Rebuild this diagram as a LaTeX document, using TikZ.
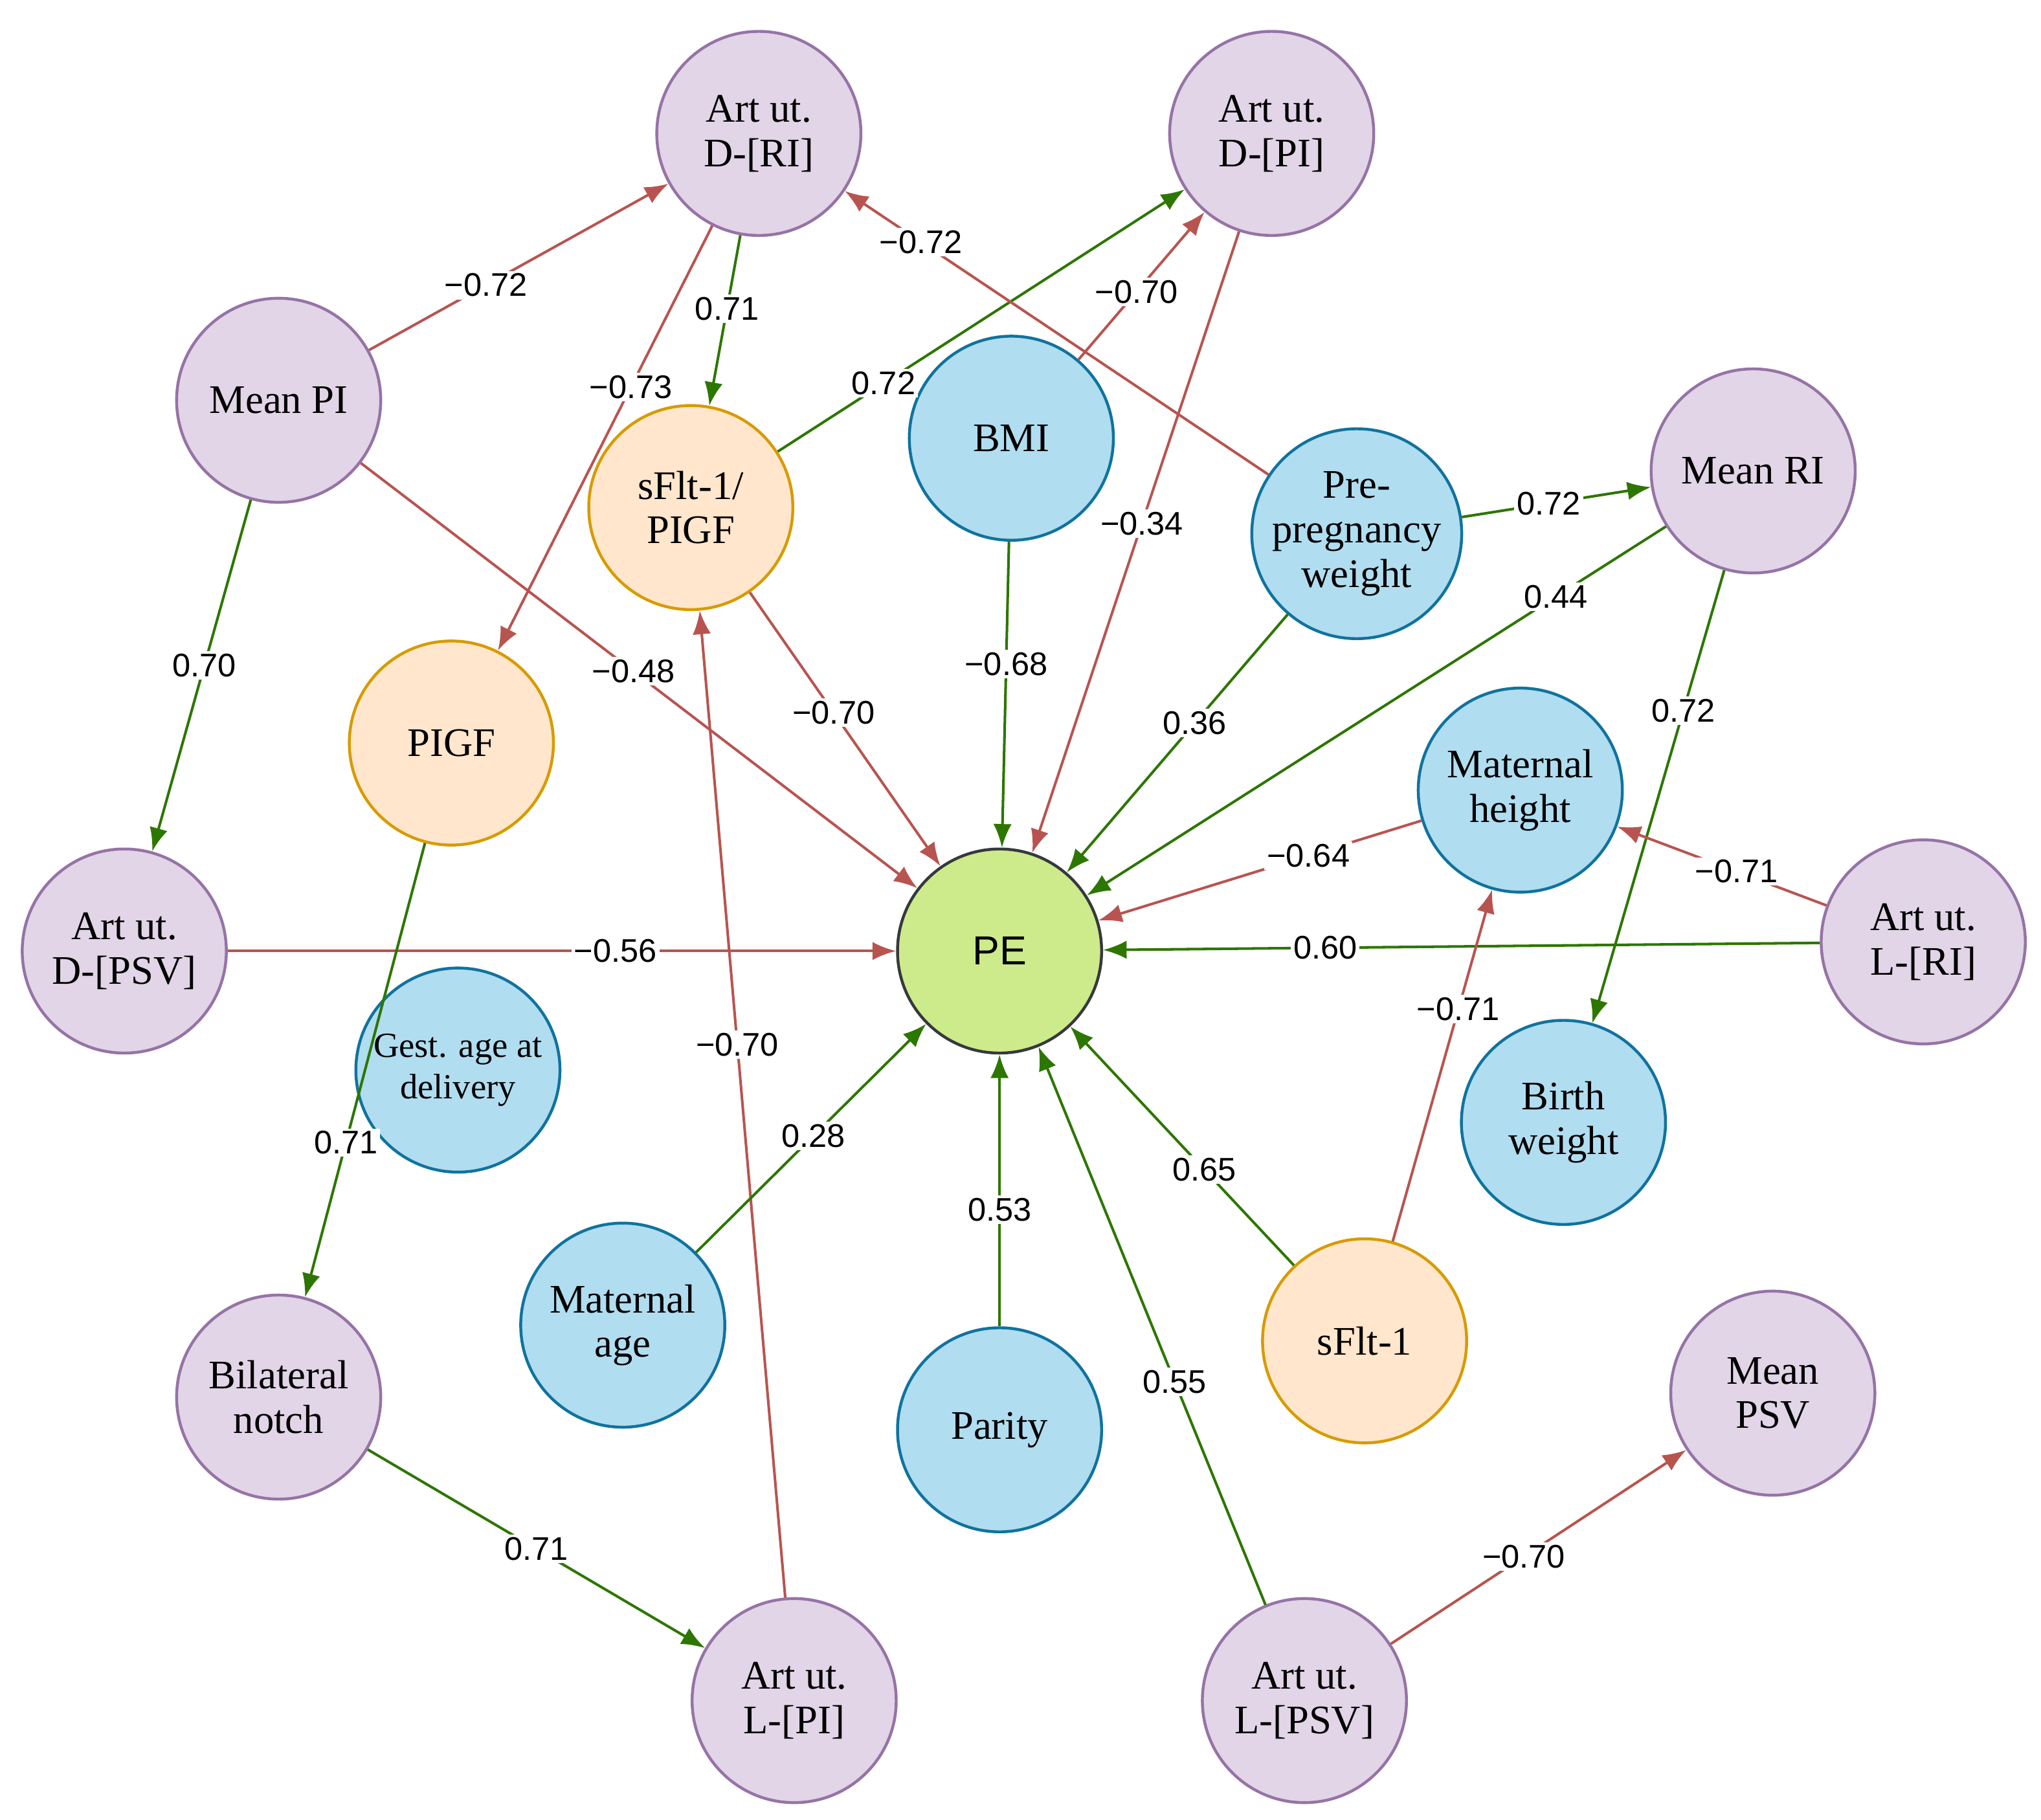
\documentclass[tikz,border=0pt]{standalone}
\usepackage{fontspec}
\setmainfont{Liberation Serif}
\newfontfamily\lsans{Liberation Sans}
\usetikzlibrary{arrows.meta}
\definecolor{pf}{HTML}{E1D5E7}\definecolor{pd}{HTML}{9673A6}
\definecolor{bf}{HTML}{B1DDF0}\definecolor{bd}{HTML}{10739E}
\definecolor{of}{HTML}{FFE6CC}\definecolor{od}{HTML}{D79B00}
\definecolor{gf}{HTML}{CDEB8B}\definecolor{gd}{HTML}{36393D}
\definecolor{er}{HTML}{B85450}\definecolor{eg}{HTML}{2D7600}
\begin{document}
\begin{tikzpicture}[x=0.5pt,y=-0.5pt,
 n/.style={circle,minimum size=78pt,inner sep=0pt,line width=1.1pt,align=center,font=\fontsize{15.5}{17}\selectfont},
 pu/.style={n,fill=pf,draw=pd}, bl/.style={n,fill=bf,draw=bd}, or/.style={n,fill=of,draw=od},
 e/.style={line width=1pt,-{Latex[length=9pt,width=7pt]}},
 r/.style={e,draw=er}, g/.style={e,draw=eg},
 l/.style={fill=white,inner sep=1pt,font=\lsans\fontsize{12.5}{14}\selectfont}]
\useasboundingbox (0,0) rectangle (1560,1391);
\node[pu] (dri) at (580,102) {Art ut.\\D-[RI]};
\node[pu] (dpi) at (972,102) {Art ut.\\D-[PI]};
\node[pu] (mpi) at (213,306) {Mean PI};
\node[or] (ratio) at (528,388) {sFlt-1/\\PIGF};
\node[bl] (bmi) at (773,335) {BMI};
\node[bl] (pre) at (1037,408) {Pre-\\pregnancy\\weight};
\node[pu] (mri) at (1340,360) {Mean RI};
\node[or] (pigf) at (345,568) {PIGF};
\node[bl] (mh) at (1162,604) {Maternal\\height};
\node[pu] (dpsv) at (95,727) {Art ut.\\D-[PSV]};
\node[n,fill=gf,draw=gd,font=\lsans\fontsize{15.5}{17}\selectfont] (pe) at (764,727) {PE};
\node[pu] (lri) at (1470,720) {Art ut.\\L-[RI]};
\node[bl,font=\fontsize{13.5}{16}\selectfont] (gest) at (350,818) {Gest. age at\\delivery};
\node[bl] (bw) at (1195,858) {Birth\\weight};
\node[bl] (ma) at (476,1013) {Maternal\\age};
\node[or] (sflt) at (1043,1025) {sFlt-1};
\node[bl] (par) at (764,1093) {Parity};
\node[pu] (bn) at (213,1068) {Bilateral\\notch};
\node[pu] (mpsv) at (1355,1065) {Mean\\PSV};
\node[pu] (lpi) at (607,1300) {Art ut.\\L-[PI]};
\node[pu] (lpsv) at (997,1300) {Art ut.\\L-[PSV]};

\draw[r] (mpi) -- node[l,pos=0.39]{−0.72} (dri);
\draw[g] (dri) -- node[l,pos=0.43]{0.71} (ratio);
\draw[r] (dri) -- node[l,pos=0.38]{−0.73} (pigf);
\draw[g] (ratio) -- node[l,pos=0.26]{0.72} (dpi);
\draw[r] (bmi) -- node[l,pos=0.46]{−0.70} (dpi);
\draw[r] (pre) -- node[l,pos=0.82]{−0.72} (dri);
\draw[r] (dpi) -- node[l,pos=0.47]{−0.34} (pe);
\draw[g] (pre) -- node[l,pos=0.46]{0.72} (mri);
\draw[r] (mpi) -- node[l,pos=0.49]{−0.48} (pe);
\draw[g] (mpi) -- node[l,pos=0.47]{0.70} (dpsv);
\draw[r] (ratio) -- node[l,pos=0.44]{−0.70} (pe);
\draw[g] (bmi) -- node[l,pos=0.4]{−0.68} (pe);
\draw[g] (pre) -- node[l,pos=0.42]{0.36} (pe);
\draw[g] (mri) -- node[l,pos=0.19]{0.44} (pe);
\draw[g] (mri) -- node[l,pos=0.31]{0.72} (bw);
\draw[r] (mh) -- node[l,pos=0.35]{−0.64} (pe);
\draw[r] (lri) -- node[l,pos=0.43]{−0.71} (mh);
\draw[g] (lri) -- node[l,pos=0.69]{0.60} (pe);
\draw[r] (dpsv) -- node[l,pos=0.58]{−0.56} (pe);
\draw[g] (pigf) -- node[l,pos=0.66]{0.71} (bn);
\draw[r] (lpi) -- node[l,pos=0.56]{−0.70} (ratio);
\draw[g] (ma) -- node[l,pos=0.51]{0.28} (pe);
\draw[g] (par) -- node[l,pos=0.43]{0.53} (pe);
\draw[g] (sflt) -- node[l,pos=0.4]{0.65} (pe);
\draw[r] (sflt) -- node[l,pos=0.66]{−0.71} (mh);
\draw[g] (lpsv) -- node[l,pos=0.4]{0.55} (pe);
\draw[r] (lpsv) -- node[l,pos=0.45]{−0.70} (mpsv);
\draw[g] (bn) -- node[l,pos=0.5]{0.71} (lpi);
\end{tikzpicture}
\end{document}
